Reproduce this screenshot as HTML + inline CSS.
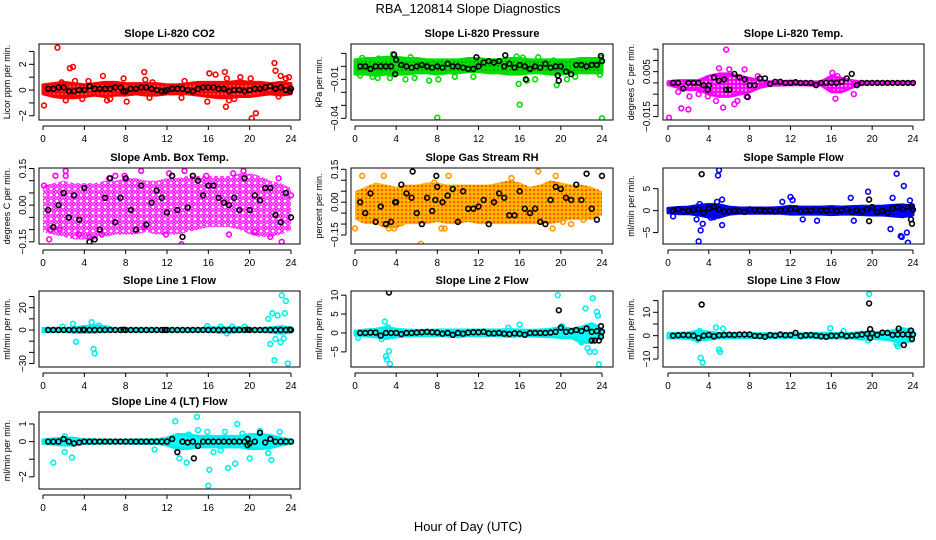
<!DOCTYPE html>
<html><head><meta charset="utf-8"><style>
html,body{margin:0;padding:0;background:#fff}
svg{display:block;font-family:"Liberation Sans",Arial,sans-serif}
</style></head><body>
<svg id="chart" width="936" height="540" viewBox="0 0 936 540" xmlns="http://www.w3.org/2000/svg">
<defs>
<pattern id="pat-red" width="4" height="4" patternUnits="userSpaceOnUse"><rect width="4" height="4" fill="#ff0000"/><circle cx="2" cy="2" r="0.8" fill="#ff9a9a"/></pattern>
<pattern id="pat-green" width="4" height="4" patternUnits="userSpaceOnUse"><rect width="4" height="4" fill="#00dd00"/><circle cx="2" cy="2" r="0.8" fill="#007a00"/></pattern>
<pattern id="pat-mag" width="4" height="4" patternUnits="userSpaceOnUse"><rect width="4" height="4" fill="#ff00ff"/><circle cx="2" cy="2" r="0.9" fill="#fff"/></pattern>
<pattern id="pat-mag2" width="6" height="6" patternUnits="userSpaceOnUse"><rect width="6" height="6" fill="#fff"/><circle cx="3" cy="3" r="2.2" fill="none" stroke="#ff00ff" stroke-width="1.4"/><circle cx="0" cy="0" r="1.2" fill="#ff00ff"/><circle cx="6" cy="6" r="1.2" fill="#ff00ff"/><circle cx="0" cy="6" r="1.2" fill="#ff00ff"/><circle cx="6" cy="0" r="1.2" fill="#ff00ff"/></pattern>
<pattern id="pat-orange" width="4" height="4" patternUnits="userSpaceOnUse"><rect width="4" height="4" fill="#ffb000"/><circle cx="2" cy="2" r="0.9" fill="#ff2200"/><circle cx="0" cy="0" r="0.7" fill="#ffff00"/></pattern>
<pattern id="pat-blue" width="4" height="4" patternUnits="userSpaceOnUse"><rect width="4" height="4" fill="#0000ff"/></pattern>
<pattern id="pat-cyan" width="4" height="4" patternUnits="userSpaceOnUse"><rect width="4" height="4" fill="#00ffff"/></pattern>
</defs>
<text x="468" y="13" font-size="13" text-anchor="middle">RBA_120814  Slope Diagnostics</text>
<text x="468" y="531" font-size="13" text-anchor="middle">Hour of Day (UTC)</text>
</svg>
<script>
const hours=[0.5,1,1.5,2,2.5,3,3.5,4,4.5,5,5.5,6,6.5,7,7.5,8,8.5,9,9.5,10,10.5,11,11.5,12,12.5,13,13.5,14,14.5,15,15.5,16,16.5,17,17.5,18,18.5,19,19.5,20,20.5,21,21.5,22,22.5,23,23.5,24];
const bandHours=[0,1,2,3,4,5,6,7,8,9,10,11,12,13,14,15,16,17,18,19,20,21,22,23,24];
const xTicks=[0,4,8,12,16,20,24];

const co2Lo=[-0.3,-0.5,-0.6,-0.6,-0.5,-0.4,-0.5,-0.4,-0.4,-0.3,-0.4,-0.4,-0.3,-0.3,-0.3,-0.4,-0.5,-0.6,-0.6,-0.5,-0.5,-0.4,-0.3,-0.4,-0.3];
const co2Hi=[0.4,0.5,0.6,0.5,0.4,0.5,0.6,0.6,0.5,0.5,0.5,0.5,0.4,0.4,0.5,0.6,0.6,0.6,0.6,0.7,0.6,0.6,0.5,0.6,0.5];
const co2Out=[[0.1,-1.2],[1.4,3.3],[1.8,0.6],[2.6,1.7],[2.9,1.8],[3.1,0.7],[3.8,-0.7],[4.4,0.7],[5.8,1.1],[6.2,-0.8],[7.8,0.9],[8.1,-0.9],[9.8,1.4],[9.9,0.8],[10.6,0.6],[13.4,-0.6],[13.7,0.7],[15.9,-0.9],[16.1,1.3],[16.7,1.2],[17.6,1.4],[17.7,-1.3],[17.8,0.9],[19.1,1.0],[20.2,-2.2],[20.6,-1.8],[20.1,0.9],[22.4,2.1],[22.5,1.5],[23.0,1.1],[23.5,0.9],[23.8,1.0],[22.8,-0.5],[18.5,-0.7],[2.2,-0.8],[6.5,-0.7],[10.3,-0.6],[18.0,-0.8]];
const co2Black=[0.1,0.1,0.2,0.2,-0.1,-0.1,0,0,0.3,0.1,0.1,0.1,0.1,0.2,0.2,-0.1,0.1,0.1,0.2,0.2,0.1,0,-0.1,0,0.1,0.1,0.1,0,-0.1,0.1,0.2,0.2,0.2,0.1,0.1,-0.1,0,0,-0.1,0,0.1,0.1,0.2,0.3,0.1,0.2,0,0.1];
const co2Extra=[[7.8,-0.1],[11.8,-0.1],[23.9,-0.1]];

const presLo=[-0.006,-0.006,-0.007,-0.006,-0.006,-0.006,-0.005,-0.005,-0.006,-0.005,-0.005,-0.004,-0.004,-0.005,-0.005,-0.006,-0.006,-0.005,-0.005,-0.006,-0.006,-0.005,-0.005,-0.005,-0.005];
const presHi=[0.005,0.006,0.006,0.007,0.007,0.006,0.006,0.005,0.005,0.005,0.005,0.006,0.006,0.005,0.005,0.006,0.006,0.005,0.005,0.005,0.005,0.005,0.006,0.006,0.006];
const presOut=[[0.5,-0.007],[0.7,0.0065],[2.3,0.006],[3.7,0.0095],[4.0,0.003],[4.9,-0.01],[5.4,0.007],[5.8,-0.009],[6.6,0.004],[7.2,-0.011],[8.0,-0.0395],[8.1,-0.01],[9.7,-0.008],[11.5,-0.008],[14.9,0.002],[15.7,0.0075],[15.9,-0.0135],[16.0,-0.0295],[16.3,0.0067],[16.7,-0.011],[17.8,0.007],[17.5,-0.01],[19.3,0.0045],[19.6,-0.0145],[20.6,-0.01],[21.5,0.004],[21.4,-0.008],[23.8,-0.0065],[24.0,-0.04],[23.9,0.0064],[1.7,-0.008],[2.2,-0.009],[3.4,-0.009]];
const presBlack=[0,0,-0.002,0,0,0,0,0.005,0.001,0,-0.001,0,0.001,0,-0.001,0,-0.001,0.002,0,0,-0.001,-0.002,-0.002,0,0.003,0.004,0.003,0.004,0,0.002,-0.001,0.001,0,-0.002,0,-0.001,0.002,-0.001,0,0,-0.004,-0.006,0.001,0.001,0,0.001,0.001,0.004];
const presExtra=[[3.8,0.009],[3.9,-0.006],[11.8,0.007],[14.6,0.0085],[16.6,-0.01],[19.8,-0.011],[19.7,-0.007],[23.9,0.008]];

const tempLo=[-0.0008,-0.002,-0.003,-0.003,-0.005,-0.006,-0.006,-0.005,-0.004,-0.002,-0.001,-0.001,-0.0008,-0.0008,-0.001,-0.001,-0.004,-0.004,-0.002,-0.0006,-0.0004,-0.0003,-0.0003,-0.0003,-0.0003];
const tempHi=[0.0005,0.001,0.001,0.001,0.003,0.004,0.004,0.003,0.002,0.001,0.0005,0.0005,0.0008,0.0004,0.0004,0.0005,0.003,0.002,0.001,0.0003,0.0003,0.0003,0.0003,0.0003,0.0003];
const tempOut=[[0.1,-0.0155],[1.3,-0.0113],[2.0,-0.0118],[5.0,0.0065],[5.7,0.0148],[6.0,0.006],[7.5,0.006],[5.4,-0.011],[6.5,-0.0095],[4.7,-0.008],[7.7,-0.006],[16.1,0.0045],[16.4,-0.007],[3.0,-0.005],[3.9,-0.006],[1.0,-0.004],[2.1,-0.006],[8.8,0.003],[16.6,0.003],[18.2,-0.005],[6.8,-0.008]];
const tempBlack=[0,0,-0.0025,0,0,0,-0.001,-0.001,0.0025,0.001,0.0015,-0.003,0.004,0.0025,0.0015,-0.001,-0.001,0.002,0.002,-0.0005,0.0005,0.0005,0,0,0.0003,0,0,0,-0.001,0,0,0,0,0.0005,0.002,0.004,-0.001,0,0,0,0,0,0,0,0,0,0,0];
const tempExtra=[[7.8,-0.0063],[5.7,-0.003],[3.9,-0.003]];

const ambLo=[-0.11,-0.12,-0.13,-0.14,-0.14,-0.14,-0.13,-0.12,-0.12,-0.12,-0.11,-0.12,-0.12,-0.12,-0.11,-0.1,-0.09,-0.09,-0.09,-0.1,-0.12,-0.13,-0.13,-0.12,-0.1];
const ambHi=[0.08,0.09,0.1,0.09,0.09,0.09,0.1,0.1,0.11,0.11,0.1,0.1,0.11,0.11,0.12,0.12,0.12,0.12,0.12,0.13,0.13,0.12,0.1,0.09,0.07];
const ambOut=[[0.1,0.08],[0.6,-0.14],[1.2,0.12],[2.2,0.14],[2.2,0.12],[5.7,-0.12],[6.4,0.11],[7.9,0.12],[9.5,0.14],[12.2,0.13],[13.7,0.14],[15.8,0.12],[18.4,0.13],[19.4,0.14],[22.8,0.11],[23.1,-0.15],[0.7,-0.1],[1.6,-0.1],[3.5,-0.12],[4.5,-0.13],[9.8,-0.09],[11.9,-0.12],[13.4,-0.16],[18.0,-0.12],[20.5,-0.11],[22.0,-0.13],[24.0,0.04],[7.0,0.12]];
const ambBlack=[-0.02,-0.09,0.0,0.05,-0.05,0.04,-0.06,0.07,-0.15,-0.14,-0.1,0.03,0.11,-0.07,0.03,0.11,-0.02,-0.1,0.08,-0.08,0.01,0.06,0.03,-0.03,0.12,-0.02,-0.13,-0.01,0.12,0.1,0.04,0.08,0.08,0.03,0.01,0.0,0.03,-0.02,0.11,-0.02,0.04,0.02,0.07,0.07,-0.04,-0.07,0.05,-0.05];
const ambExtra=[];

const rhLo=[-0.08,-0.1,-0.1,-0.12,-0.12,-0.1,-0.1,-0.1,-0.09,-0.1,-0.1,-0.09,-0.1,-0.1,-0.1,-0.1,-0.1,-0.1,-0.1,-0.1,-0.09,-0.08,-0.08,-0.08,-0.06];
const rhHi=[0.05,0.07,0.09,0.08,0.07,0.08,0.08,0.09,0.09,0.08,0.08,0.08,0.08,0.08,0.09,0.1,0.09,0.07,0.08,0.1,0.09,0.08,0.08,0.07,0.05];
const rhOut=[[0.0,-0.12],[0.7,0.12],[2.8,0.12],[6.4,-0.19],[8.4,-0.12],[9.1,0.12],[17.8,0.14],[19.2,-0.12],[20.2,-0.09],[21.0,-0.1],[22.2,-0.08],[3.8,-0.12],[7.7,0.09],[15.2,0.11],[19.5,0.12],[8.7,-0.12],[3.3,-0.12]];
const rhBlack=[0.0,-0.05,0.04,-0.09,-0.02,-0.1,-0.09,0.0,0.08,0.04,0.02,-0.05,-0.1,0.02,-0.04,0.07,0.0,0.03,0.06,-0.09,0.05,-0.03,-0.03,-0.02,0.01,-0.1,0.0,0.04,0.02,-0.06,-0.06,0.05,-0.03,-0.05,-0.03,-0.09,-0.1,0.01,0.07,0.06,0.02,0.01,0.08,0.01,0.13,-0.03,-0.08,0.12];
const rhExtra=[[5.6,0.14],[7.9,0.12],[3.9,0.0],[7.8,0.01]];

const sampLo=[-0.5,-0.7,-0.7,-1,-1.5,-1.5,-0.8,-0.6,-0.6,-0.6,-0.6,-0.6,-0.8,-0.8,-0.8,-0.8,-0.9,-0.8,-0.8,-0.9,-1,-1,-1.2,-1.4,-1];
const sampHi=[0.5,0.7,0.8,1.2,1.4,1.3,0.8,0.6,0.6,0.6,0.6,0.7,1,0.8,0.8,0.8,0.9,0.8,0.9,1,1,1,1.2,1.3,1];
const sampOut=[[3.0,-7],[3.2,-4.5],[3.4,-3],[3.1,1.5],[4.9,8],[5.0,9.2],[5.3,2.5],[5.3,-3.3],[4.8,2],[2.8,-2],[11.2,2],[12.0,3.1],[12.2,2.4],[13.2,-2],[14.6,-2.3],[17.9,2.9],[18.2,-2.3],[19.6,4.3],[22.4,8.4],[22.0,2.9],[21.8,-4.2],[23.1,5.6],[23.4,-5],[23.5,-7.3],[22.8,-5.8],[22.9,-6],[23.7,2.3],[0.5,-1.3],[4.5,-1.5],[4.2,-1.6]];
const sampBlack=[0,0.3,-0.2,0,0.2,0.3,-0.5,0.5,0.9,0.3,-0.2,-0.2,0,-0.1,-0.3,0.3,0.2,0.1,-0.1,0,-0.2,0.1,0.2,0.3,0.5,-0.2,0,0,0.2,0.1,0,0.2,-0.1,0.1,0.3,-0.3,0.1,-0.2,0.3,0.8,-0.3,-0.1,-0.5,0.5,0.8,0.3,0.8,0.2];
const sampExtra=[[3.3,8.3],[19.7,2.5],[19.7,-2.4],[23.9,-3.0],[23.8,-2],[23.9,1]];

const l1Lo=[-1.5,-1.5,-1,-2,-2,-2,-1,-1,-1,-1,-1,-1,-1,-1,-1,-1,-1,-2,-2,-1.5,-1,-1,-2,-3,-2];
const l1Hi=[1.5,1.5,1,2,3,4,3,1,1,1,1,1,1,1,1,1,2,2,2,2,1,1,2,3,2];
const l1Out=[[2.9,5.5],[3.2,-10.5],[4.7,7],[4.9,-17],[5.0,-21],[5.4,4],[1.9,3],[21.8,10],[22.0,-12.5],[22.2,15],[22.4,-27],[22.5,-8],[22.7,13],[23.0,-11],[23.1,31],[23.3,-7.5],[23.4,15],[23.5,26],[23.7,-30],[17.8,-3],[18.3,3],[15.9,3.5],[17.2,3],[19.5,3]];
const l1Black=[0,0,0,0,0,0,0,0,0,0,0,0,0,0,0,0,0,0,0,0,0,0,0,0,0,0,0,0,0,0,0,0,0,0,0,0,0,0,0,0,0,0,0,0,0,0,0,0];
const l1Extra=[[3.9,0.3],[7.8,0.3],[11.8,0],[19.8,0.3],[23.9,0.3]];

const l2Lo=[-0.5,-0.8,-1,-1.5,-1,-0.8,-0.7,-0.7,-0.7,-0.8,-1,-0.7,-0.7,-0.7,-0.7,-0.9,-0.8,-0.8,-0.9,-1,-1.2,-1.2,-2.5,-2.5,-1];
const l2Hi=[0.5,0.8,1,1.5,1,0.8,0.7,0.7,0.8,0.8,0.8,0.8,0.8,0.8,0.8,0.9,0.8,0.7,0.8,1,1.5,1,1.5,2.5,1];
const l2Out=[[2.9,3],[3.0,-6.2],[3.1,-7],[3.3,-4.8],[3.4,-8.2],[3.2,1.5],[16.0,2.2],[14.9,1.4],[19.7,10],[20.1,1.8],[22.4,6.5],[22.6,-4],[22.8,-5],[23.1,9.2],[23.3,-5],[23.5,5.6],[23.6,4.6],[23.7,-8.3],[22.0,-2.5],[21.8,-1.5],[0.3,-1.3],[2.6,-1.6]];
const l2Black=[0,0,0.1,0.1,-0.7,0,0,0,-0.3,0,0,0.1,0.2,0.3,0.2,0.1,-0.2,0,-0.5,0,-0.2,0.1,0.2,0.2,0.3,-0.1,-0.1,0,-0.2,-0.3,-0.1,-0.2,-0.5,0,0,0,0,0.1,0.3,1.4,0.3,0.5,0.8,0.5,1.2,0.3,0.5,0.3];
const l2Extra=[[3.3,10.7],[19.8,6],[23.0,-2],[23.3,-2],[23.7,-2],[23.9,1.8],[23.9,-1]];

const l3Lo=[-1,-1,-1.2,-2,-1.5,-1,-1,-0.8,-0.8,-0.8,-0.8,-0.8,-0.8,-0.8,-0.8,-1,-1,-1,-1,-1.5,-1.2,-1.5,-2,-3,-2];
const l3Hi=[1,1,1.2,2,1.5,1,1,0.8,0.8,0.8,0.8,0.8,0.8,0.8,0.8,1,1,1,1,1.5,1.2,1.5,2,3,2];
const l3Out=[[3.2,-9.5],[3.4,-11.5],[3.1,2],[4.7,3.5],[5.0,-6],[5.1,-7],[5.4,3],[15.9,3.2],[17.2,2],[19.6,-2],[19.7,17.8],[22.4,-3.5],[22.5,-4.5],[23.6,2],[2.9,-1.8]];
const l3Black=[0,0.2,0.3,0.2,0,-1,0,0.3,-0.3,0.2,0.3,0.4,0.3,0.5,0.5,0.5,-0.1,-0.2,-0.5,0.3,0,0.5,0.2,0.3,1.2,-0.2,0.2,0.3,0,-0.3,-0.5,0,-0.1,0.4,-0.2,0,0.2,0.5,0.8,1,0.3,1.3,1.2,0.3,0.5,0.5,0.5,0.5];
const l3Extra=[[3.3,13.3],[19.7,13.8],[19.8,2.8],[19.8,-1],[22.6,3],[23.1,-4],[23.8,2.2],[23.9,-1.5]];

const l4Lo=[-0.1,-0.15,-0.2,-0.2,-0.1,-0.1,-0.08,-0.08,-0.08,-0.1,-0.1,-0.1,-0.2,-0.4,-0.4,-0.3,-0.3,-0.3,-0.3,-0.3,-0.4,-0.4,-0.35,-0.2,-0.1];
const l4Hi=[0.1,0.15,0.2,0.2,0.1,0.1,0.08,0.08,0.08,0.1,0.1,0.1,0.2,0.4,0.4,0.3,0.3,0.3,0.3,0.3,0.4,0.4,0.35,0.2,0.1];
const l4Out=[[1.0,-1.2],[2.1,0.3],[2.1,-0.6],[2.8,-0.9],[10.8,-0.45],[12.8,1.15],[13.2,-0.95],[13.9,-1.2],[14.1,0.4],[14.9,1.4],[15.0,0.65],[15.9,0.55],[16.0,-2.5],[16.1,-1.6],[16.5,-0.6],[17.6,0.55],[17.9,-1.5],[18.6,-1.25],[18.8,1.0],[19.3,0.45],[20.0,-0.95],[21.0,0.6],[21.8,-0.65],[22.1,-1.05],[22.9,0.55],[17.2,-0.5]];
const l4Black=[0,0,0,0.15,0,-0.1,-0.05,0,0,0,0,0,0,0,0,0,0,0,0,0,0,0,0,0,0.15,-0.6,0,-0.05,0,-0.25,0,0,0,0,0,0,0,0,0,-0.1,0,0.5,-0.05,0.15,0,0,0,0];
const l4Extra=[[14.6,-0.95],[19.8,-0.2],[19.8,0.15]];

const colX=[{ax:34,bl:39,br:300,x0:43,x24:291,lab:10},{ax:346,bl:351,br:613,x0:355,x24:602,lab:322},{ax:658,bl:663,br:924,x0:668,x24:913,lab:634}];
const rowY=[[44,120],[168,244],[291,367],[412,489]];
const panels=[
 {name:"co2",title:"Slope Li-820 CO2",yl:"Licor ppm per min.",c:0,r:0,ymin:-2.33,ymax:3.58,ticks:[-2,-1,0,1,2,3],labels:[-2,0,2],fmt:v=>String(v),col:"#ff0000",pat:"pat-red",sw:3,lo:co2Lo,hi:co2Hi,out:co2Out,blk:co2Black,ext:co2Extra},
 {name:"pressure",title:"Slope Li-820 Pressure",yl:"kPa per min.",c:1,r:0,ymin:-0.0413,ymax:0.0172,ticks:[0.01,0,-0.01,-0.02,-0.03,-0.04],labels:[-0.01,-0.04],fmt:v=>v.toFixed(2),col:"#00dd00",pat:"pat-green",sw:3,lo:presLo,hi:presHi,out:presOut,blk:presBlack,ext:presExtra},
 {name:"temp",title:"Slope Li-820 Temp.",yl:"degrees C per min.",c:2,r:0,ymin:-0.0165,ymax:0.0173,ticks:[0.015,0.01,0.005,0,-0.005,-0.01,-0.015],labels:[0.005,-0.015],fmt:v=>v.toFixed(3),col:"#ff00ff",pat:"pat-mag",sw:3,lo:tempLo,hi:tempHi,out:tempOut,blk:tempBlack,ext:tempExtra},
 {name:"amb-box-temp",title:"Slope Amb. Box Temp.",yl:"degrees C per min.",c:0,r:1,ymin:-0.159,ymax:0.152,ticks:[-0.15,-0.1,-0.05,0,0.05,0.1,0.15],labels:[-0.15,0,0.15],fmt:v=>v.toFixed(2),col:"#ff00ff",pat:"pat-mag2",sw:0,lo:ambLo,hi:ambHi,out:ambOut,blk:ambBlack,ext:ambExtra},
 {name:"gas-rh",title:"Slope Gas Stream RH",yl:"percent per min.",c:1,r:1,ymin:-0.191,ymax:0.156,ticks:[-0.15,-0.1,-0.05,0,0.05,0.1,0.15],labels:[-0.15,0,0.15],fmt:v=>v.toFixed(2),col:"#ff9900",pat:"pat-orange",sw:0,lo:rhLo,hi:rhHi,out:rhOut,blk:rhBlack,ext:rhExtra},
 {name:"sample-flow",title:"Slope Sample Flow",yl:"ml/min per min.",c:2,r:1,ymin:-7.6,ymax:9.7,ticks:[-5,0,5],labels:[-5,0,5],fmt:v=>String(v),col:"#0000ff",pat:"pat-blue",sw:3,lo:sampLo,hi:sampHi,out:sampOut,blk:sampBlack,ext:sampExtra},
 {name:"line1",title:"Slope Line 1 Flow",yl:"ml/min per min.",c:0,r:2,ymin:-33.1,ymax:34.9,ticks:[-30,-20,-10,0,10,20,30],labels:[-30,0,20],fmt:v=>String(v),col:"#00eeee",pat:"pat-cyan",sw:3,lo:l1Lo,hi:l1Hi,out:l1Out,blk:l1Black,ext:l1Extra},
 {name:"line2",title:"Slope Line 2 Flow",yl:"ml/min per min.",c:1,r:2,ymin:-9.0,ymax:11.1,ticks:[-5,0,5,10],labels:[-5,0,5,10],fmt:v=>String(v),col:"#00eeee",pat:"pat-cyan",sw:3,lo:l2Lo,hi:l2Hi,out:l2Out,blk:l2Black,ext:l2Extra},
 {name:"line3",title:"Slope Line 3 Flow",yl:"ml/min per min.",c:2,r:2,ymin:-13.4,ymax:19.1,ticks:[-10,-5,0,5,10,15],labels:[-10,0,10],fmt:v=>String(v),col:"#00eeee",pat:"pat-cyan",sw:3,lo:l3Lo,hi:l3Hi,out:l3Out,blk:l3Black,ext:l3Extra},
 {name:"line4",title:"Slope Line 4 (LT) Flow",yl:"ml/min per min.",c:0,r:3,ymin:-2.69,ymax:1.68,ticks:[-2,-1,0,1],labels:[-2,0,1],fmt:v=>String(v),col:"#00eeee",pat:"pat-cyan",sw:3,lo:l4Lo,hi:l4Hi,out:l4Out,blk:l4Black,ext:l4Extra}
];
const NS="http://www.w3.org/2000/svg";
const svg=document.getElementById("chart");
function mk(tag,attrs,parent){const e=document.createElementNS(NS,tag);for(const k in attrs)e.setAttribute(k,attrs[k]);(parent||svg).appendChild(e);return e;}
function fmtNeg(s){return s.replace("-","\u2212");}
panels.forEach(p=>{
  const cx=colX[p.c],ry=rowY[p.r];
  const top=ry[0],bot=ry[1];
  const X=h=>cx.x0+(cx.x24-cx.x0)*h/24;
  const Y=v=>bot-(v-p.ymin)/(p.ymax-p.ymin)*(bot-top);
  const g=mk("g",{});
  
  
  const clipId="clip-"+p.name;
  const cp=mk("clipPath",{id:clipId},g);
  mk("rect",{x:cx.bl,y:top,width:cx.br-cx.bl,height:bot-top},cp);
  const plot=mk("g",{"clip-path":"url(#"+clipId+")"},g);
  let pts=bandHours.map((h,i)=>X(h)+","+Y(p.hi[i]));
  pts=pts.concat(bandHours.slice().reverse().map((h,j)=>{const i=bandHours.length-1-j;return X(h)+","+Y(p.lo[i]);}));
  const band=mk("polygon",{points:pts.join(" "),fill:"url(#"+p.pat+")",stroke:p.sw?p.col:"none","stroke-width":p.sw,"stroke-linejoin":"round"},plot);
  
  
  p.out.forEach(d=>{
    const c=mk("circle",{cx:X(d[0]),cy:Y(d[1]),r:2.4,fill:"none",stroke:p.col,"stroke-width":1.6},plot);
    
    
  });
  p.blk.forEach((v,i)=>{
    const c=mk("circle",{cx:X(hours[i]),cy:Y(v),r:2.4,fill:"none",stroke:"#000","stroke-width":1.6},plot);
    
    
  });
  p.ext.forEach(d=>{
    const c=mk("circle",{cx:X(d[0]),cy:Y(d[1]),r:2.4,fill:"none",stroke:"#000","stroke-width":1.6},plot);
    
    
  });
  const box=mk("rect",{x:cx.bl,y:top,width:cx.br-cx.bl,height:bot-top,fill:"none",stroke:"#000","stroke-width":1},g);
  
  
  const t=mk("text",{x:(cx.bl+cx.br)/2,y:top-7,"font-size":11,"font-weight":"bold","text-anchor":"middle"},g);
  t.textContent=p.title;
  
  
  const ym=(top+bot)/2;
  const yl=mk("text",{x:cx.lab,y:ym,"font-size":9,"text-anchor":"middle",transform:"rotate(-90 "+cx.lab+" "+ym+")"},g);
  yl.textContent=p.yl;
  
  
  const tv=p.ticks.filter(v=>v>=p.ymin&&v<=p.ymax);
  const ya=mk("g",{},g);
  
  
  mk("line",{x1:cx.ax,x2:cx.ax,y1:Y(Math.min(...tv)),y2:Y(Math.max(...tv)),stroke:"#000"},ya);
  tv.forEach(v=>mk("line",{x1:cx.ax-5,x2:cx.ax,y1:Y(v),y2:Y(v),stroke:"#000"},ya));
  p.labels.forEach(v=>{
    const lx=cx.ax-8,ly=Y(v);
    const lt=mk("text",{x:lx,y:ly,"font-size":10,"text-anchor":"middle",transform:"rotate(-90 "+lx+" "+ly+")"},ya);
    lt.textContent=fmtNeg(p.fmt(v));
    
    
  });
  const xa=mk("g",{},g);
  
  
  const ay=bot+6;
  mk("line",{x1:X(0),x2:X(24),y1:ay,y2:ay,stroke:"#000"},xa);
  xTicks.forEach(h=>{
    mk("line",{x1:X(h),x2:X(h),y1:ay,y2:ay+4,stroke:"#000"},xa);
    const lt=mk("text",{x:X(h),y:ay+16,"font-size":10,"text-anchor":"middle"},xa);
    lt.textContent=String(h);
    
    
  });
});
</script>
</body></html>
